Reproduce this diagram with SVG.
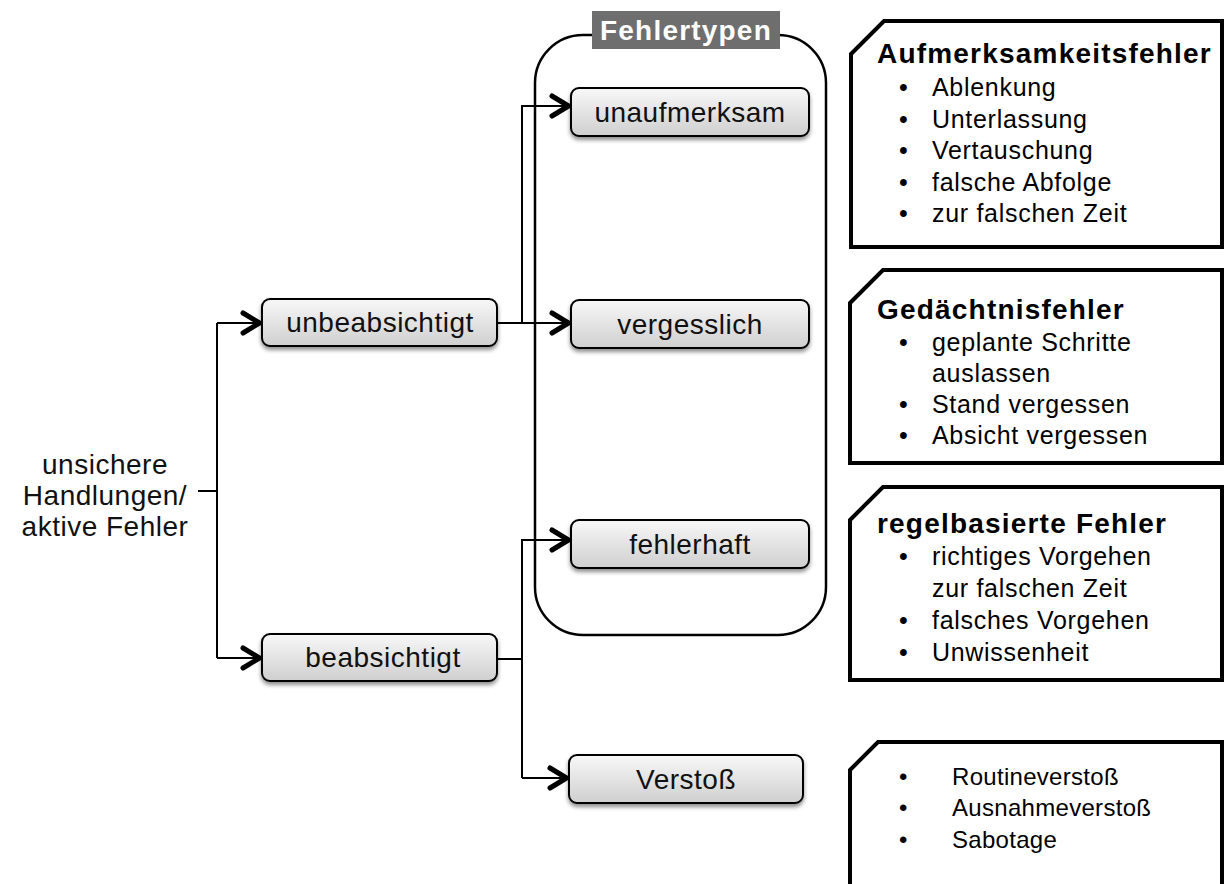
<svg xmlns="http://www.w3.org/2000/svg" width="1225" height="884" viewBox="0 0 1225 884">
  <defs>
    <linearGradient id="nodeFill" x1="0" y1="0" x2="0" y2="1">
      <stop offset="0" stop-color="#f8f8f8"/>
      <stop offset="1" stop-color="#cfcfcf"/>
    </linearGradient>
    <filter id="shadow" x="-10%" y="-20%" width="120%" height="160%">
      <feGaussianBlur in="SourceAlpha" stdDeviation="2"/>
      <feOffset dx="0" dy="3" result="b"/>
      <feComponentTransfer><feFuncA type="linear" slope="0.45"/></feComponentTransfer>
      <feMerge><feMergeNode/><feMergeNode in="SourceGraphic"/></feMerge>
    </filter>
    <marker id="chevron" markerUnits="userSpaceOnUse" markerWidth="30" markerHeight="30" viewBox="-25 -15 30 30" refX="0" refY="0" orient="auto">
      <path d="M-19,-10 L-2.5,0 L-19,10" fill="none" stroke="#000" stroke-width="5" stroke-linecap="round" stroke-linejoin="round"/>
    </marker>
    <style>
      .node rect { fill: url(#nodeFill); stroke: #000; stroke-width: 2; filter: url(#shadow); }
      .label { font-family: "Liberation Sans", Arial, sans-serif; font-size: 28px; letter-spacing: 0.5px; fill: #111; text-anchor: middle; }
      .wire { fill: none; stroke: #000; stroke-width: 2; }
      .arrow { marker-end: url(#chevron); }
      .panel path { fill: #fff; stroke: #000; stroke-width: 4; stroke-linejoin: miter; }
      .head { font-family: "Liberation Sans", Arial, sans-serif; font-size: 28px; font-weight: bold; letter-spacing: 1.2px; fill: #000; }
      .item { font-family: "Liberation Sans", Arial, sans-serif; font-size: 25px; letter-spacing: 0.7px; fill: #000; }
      .small { font-size: 24px; letter-spacing: 0.3px; }
    </style>
  </defs>

  <rect width="1225" height="884" fill="#fff"/>

  <!-- container for the error types -->
  <g id="fehlertypen">
    <rect x="535" y="35" width="291" height="600" rx="48" ry="48" fill="none" stroke="#000" stroke-width="2.5"/>
    <rect x="592" y="11" width="188" height="38" fill="#6e6e6e"/>
    <text x="686" y="40" class="head" style="fill:#fff" text-anchor="middle">Fehlertypen</text>
  </g>

  <!-- connectors -->
  <g id="connectors">
    <path class="wire" d="M198,491 H217"/>
    <path class="wire" d="M217,323 V658"/>
    <path class="wire arrow" d="M217,323 H262"/>
    <path class="wire arrow" d="M217,658 H262"/>
    <path class="wire arrow" d="M497,323 H571"/>
    <path class="wire arrow" d="M522,323 V106 H571"/>
    <path class="wire" d="M497,659 H522"/>
    <path class="wire arrow" d="M522,778 V540 H571"/>
    <path class="wire arrow" d="M522,778 H569"/>
  </g>

  <!-- root label -->
  <g id="root">
    <text class="label" x="105" y="474">unsichere</text>
    <text class="label" x="105" y="505">Handlungen/</text>
    <text class="label" x="105" y="536">aktive Fehler</text>
  </g>

  <g id="unbeabsichtigt" class="node">
    <rect x="262" y="299" width="235" height="47" rx="8"/>
    <text class="label" x="380" y="332">unbeabsichtigt</text>
  </g>
  <g id="beabsichtigt" class="node">
    <rect x="262" y="634" width="235" height="47" rx="8"/>
    <text class="label" x="383" y="667">beabsichtigt</text>
  </g>
  <g id="unaufmerksam" class="node">
    <rect x="571" y="88" width="238" height="48" rx="8"/>
    <text class="label" x="690" y="122">unaufmerksam</text>
  </g>
  <g id="vergesslich" class="node">
    <rect x="571" y="300" width="238" height="48" rx="8"/>
    <text class="label" x="690" y="334">vergesslich</text>
  </g>
  <g id="fehlerhaft" class="node">
    <rect x="571" y="520" width="238" height="48" rx="8"/>
    <text class="label" x="690" y="554">fehlerhaft</text>
  </g>
  <g id="verstoss" class="node">
    <rect x="569" y="755" width="234" height="48" rx="8"/>
    <text class="label" x="686" y="789">Verstoß</text>
  </g>

  <!-- description panels -->
  <g id="panel-aufmerksamkeit" class="panel">
    <path d="M851,54 L884,21 H1222 V247 H851 Z"/>
    <text class="head" x="877" y="63">Aufmerksamkeitsfehler</text>
    <text class="item" x="899" y="96">•</text><text class="item" x="932" y="96">Ablenkung</text>
    <text class="item" x="899" y="128">•</text><text class="item" x="932" y="128">Unterlassung</text>
    <text class="item" x="899" y="159">•</text><text class="item" x="932" y="159">Vertauschung</text>
    <text class="item" x="899" y="191">•</text><text class="item" x="932" y="191">falsche Abfolge</text>
    <text class="item" x="899" y="222">•</text><text class="item" x="932" y="222">zur falschen Zeit</text>
  </g>
  <g id="panel-gedaechtnis" class="panel">
    <path d="M850,303 L883,270 H1222 V463 H850 Z"/>
    <text class="head" x="877" y="319">Gedächtnisfehler</text>
    <text class="item" x="899" y="351">•</text><text class="item" x="932" y="351">geplante Schritte</text>
    <text class="item" x="932" y="382">auslassen</text>
    <text class="item" x="899" y="413">•</text><text class="item" x="932" y="413">Stand vergessen</text>
    <text class="item" x="899" y="444">•</text><text class="item" x="932" y="444">Absicht vergessen</text>
  </g>
  <g id="panel-regel" class="panel">
    <path d="M850,520 L883,487 H1222 V680 H850 Z"/>
    <text class="head" x="877" y="533">regelbasierte Fehler</text>
    <text class="item" x="899" y="565">•</text><text class="item" x="932" y="565">richtiges Vorgehen</text>
    <text class="item" x="932" y="597">zur falschen Zeit</text>
    <text class="item" x="899" y="629">•</text><text class="item" x="932" y="629">falsches Vorgehen</text>
    <text class="item" x="899" y="661">•</text><text class="item" x="932" y="661">Unwissenheit</text>
  </g>
  <g id="panel-verstoss" class="panel">
    <path d="M850,770 L878,742 H1222 V900 H850 Z"/>
    <text class="item small" x="899" y="785">•</text><text class="item small" x="952" y="785">Routineverstoß</text>
    <text class="item small" x="899" y="816">•</text><text class="item small" x="952" y="816">Ausnahmeverstoß</text>
    <text class="item small" x="899" y="848">•</text><text class="item small" x="952" y="848">Sabotage</text>
  </g>
</svg>
